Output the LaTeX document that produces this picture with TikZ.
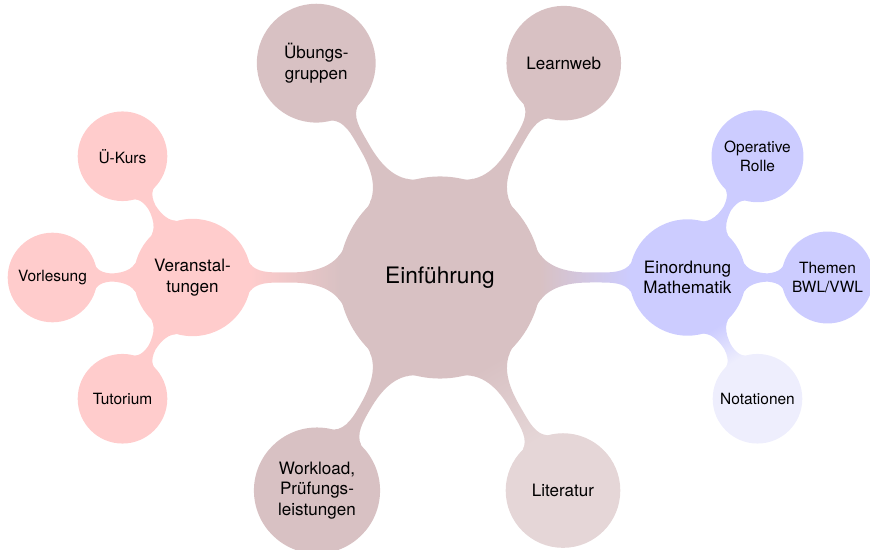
\documentclass[tikz,border=0pt]{standalone}
\usepackage{fontspec}
\setmainfont{TeX Gyre Heros}
\usetikzlibrary{mindmap,calc}

\definecolor{hubcol}{RGB}{216,193,195}
\definecolor{litcol}{RGB}{229,214,215}
\definecolor{vacol}{RGB}{255,204,204}
\definecolor{emcol}{RGB}{204,204,255}
\definecolor{notcol}{RGB}{238,238,253}

\begin{document}
\begin{tikzpicture}[mindmap, concept color=hubcol,
	hub/.style={concept, text=black, align=center, minimum size=4cm, text width=3.5cm, font=\fontsize{12.9}{15.5}\selectfont},
	topic/.style={concept, text=black, align=center, minimum size=2.25cm, text width=2.1cm, font=\fontsize{9.7}{11.6}\selectfont},
	leaf/.style={concept, text=black, align=center, minimum size=1.75cm, text width=1.6cm, font=\fontsize{8.8}{10.6}\selectfont}]
	\useasboundingbox (-8.8,-5.45) rectangle (8.6,5.55);
	% centre and first ring
	\node [hub, concept color=hubcol] (root) at (0,0) {Einführung};
	\node [topic, concept color=hubcol] (ueb) at (120:4.95) {Übungs-\\gruppen};
	\node [topic, concept color=hubcol] (lw) at (60:4.95) {Learnweb};
	\node [topic, concept color=vacol] (va) at (180:4.95) {Veranstal-\\tungen};
	\node [topic, concept color=emcol] (em) at (0:4.95) {Einordnung\\Mathematik};
	\node [topic, concept color=hubcol] (wl) at (240:4.92) {Workload,\\Prüfungs-\\leistungen};
	\node [topic, concept color=litcol] (lit) at (300:4.92) {Literatur};
	% second ring
	\node [leaf, concept color=vacol] (uk) at ($(va)+(120:2.8)$) {Ü-Kurs};
	\node [leaf, concept color=vacol] (vl) at ($(va)+(180:2.8)$) {Vorlesung};
	\node [leaf, concept color=vacol] (tut) at ($(va)+(240:2.8)$) {Tutorium};
	\node [leaf, concept color=emcol] (op) at ($(em)+(60:2.8)$) {Operative\\Rolle};
	\node [leaf, concept color=emcol] (th) at ($(em)+(0:2.8)$) {Themen\\BWL/VWL};
	\node [leaf, concept color=notcol] (nt) at ($(em)+(-60:2.8)$) {Notationen};
	% connection bars
	\path (root) to [circle connection bar switch color=from (hubcol) to (hubcol)] (ueb);
	\path (root) to [circle connection bar switch color=from (hubcol) to (hubcol)] (lw);
	\path (root) to [circle connection bar switch color=from (hubcol) to (vacol)] (va);
	\path (root) to [circle connection bar switch color=from (hubcol) to (emcol)] (em);
	\path (root) to [circle connection bar switch color=from (hubcol) to (hubcol)] (wl);
	\path (root) to [circle connection bar switch color=from (hubcol) to (litcol)] (lit);
	\path (va) to [circle connection bar switch color=from (vacol) to (vacol)] (uk);
	\path (va) to [circle connection bar switch color=from (vacol) to (vacol)] (vl);
	\path (va) to [circle connection bar switch color=from (vacol) to (vacol)] (tut);
	\path (em) to [circle connection bar switch color=from (emcol) to (emcol)] (op);
	\path (em) to [circle connection bar switch color=from (emcol) to (emcol)] (th);
	\path (em) to [circle connection bar switch color=from (emcol) to (notcol)] (nt);
\end{tikzpicture}
\end{document}
